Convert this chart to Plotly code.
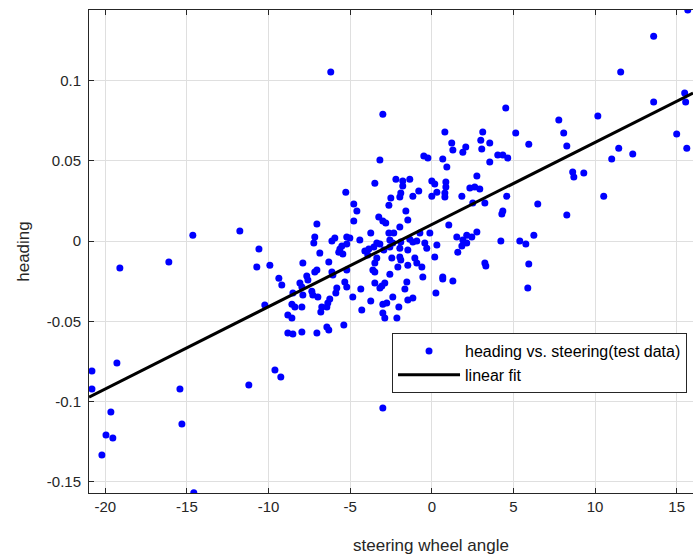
import plotly.graph_objects as go

# steering wheel angle (deg) and measured heading for the test data
steering = [
    -19.11, -16.11, -14.64, -11.76, -10.72, -10.59, -20.82, -19.29, -20.82, -15.43,
    -11.21, -19.66, -15.31, -19.96, -19.54, -20.21, -14.58, -6.19, -5.27, -7.04,
    -7.17, -7.23, -9.92, -9.37, -7.90, -6.86, -6.31, -6.12, -5.94, -5.63,
    -5.70, -5.51, -5.21, -5.21, -7.17, -7.04, -7.66, -7.59, -6.12, -6.06,
    -5.21, -8.08, -9.19, -10.23, -7.96, -8.51, -7.90, -7.35, -7.29, -6.98,
    -8.57, -8.39, -7.96, -6.74, -6.80, -6.37, -6.25, -6.43, -5.82, -5.88,
    -5.33, -5.21, -8.82, -8.57, -8.82, -8.51, -7.96, -7.04, -6.43, -6.31,
    -5.39, -9.61, -9.25, -3.00, -3.18, -0.49, -0.24, -3.49, -2.20, -1.78,
    -1.78, -1.35, 0.00, 0.18, -0.80, -1.16, -1.90, -1.96, -2.51, 0.00,
    0.31, -2.63, -4.78, -4.59, -4.78, -1.59, -1.47, -3.25, -3.00, -2.82,
    -1.96, -3.74, -2.63, -2.33, -0.73, -0.12, -5.02, -4.41, -3.37, -3.18,
    -3.55, -2.57, -2.39, -1.90, -1.35, -1.16, -0.92, -0.43, -0.31, 0.31,
    -4.10, -3.86, -2.94, -2.57, -1.96, -1.47, -3.92, -5.45, -3.37, -2.45,
    -1.96, -1.90, -1.04, -3.49, -3.61, -3.49, -2.08, -1.47, -0.92, -0.61,
    0.18, -2.57, -4.35, -3.49, -3.18, -3.06, -2.88, -1.53, -0.55, -1.65,
    -4.84, -3.74, -2.39, -3.00, -2.76, -2.02, -1.47, -1.16, 0.25, -4.29,
    -3.00, -2.88, -2.14, -3.00, 4.53, 0.80, 3.12, 5.14, 1.22, 1.29,
    3.00, 3.55, 3.06, 2.08, 1.90, 5.94, 4.04, 4.35, 4.65, 0.67,
    0.92, 3.55, 0.86, 0.86, 2.76, 2.63, 2.33, 2.94, 0.80, 0.80,
    1.84, 4.59, 2.51, 3.25, 4.29, 4.35, 1.04, 1.53, 1.90, 2.14,
    2.45, 2.76, 2.14, 1.84, 1.59, 4.23, 5.39, 5.76, 3.25, 3.31,
    5.94, 0.67, 0.67, 1.29, 5.88, 15.68, 13.59, 11.57, 15.49, 15.55,
    13.59, 10.17, 7.78, 8.08, 8.27, 15.00, 15.62, 11.45, 12.31, 11.02,
    8.63, 8.70, 9.31, 10.53, 6.49, 8.27, 6.25,
]

heading = [
    -0.0168, -0.0131, 0.0037, 0.0062, -0.0162, -0.0050, -0.0810, -0.0760, -0.0922, -0.0922,
    -0.0897, -0.1065, -0.1140, -0.1209, -0.1227, -0.1333, -0.1568, 0.1053, 0.0305, 0.0106,
    0.0025, -0.0012, -0.0150, -0.0231, -0.0137, -0.0075, -0.0131, 0.0000, 0.0019, -0.0050,
    -0.0069, -0.0031, 0.0025, -0.0019, -0.0193, -0.0181, -0.0218, -0.0243, -0.0193, -0.0212,
    -0.0181, -0.0262, -0.0274, -0.0399, -0.0287, -0.0324, -0.0336, -0.0312, -0.0336, -0.0349,
    -0.0393, -0.0411, -0.0411, -0.0411, -0.0442, -0.0386, -0.0361, -0.0411, -0.0293, -0.0324,
    -0.0255, -0.0287, -0.0461, -0.0480, -0.0573, -0.0579, -0.0567, -0.0573, -0.0536, -0.0554,
    -0.0523, -0.0804, -0.0847, 0.0791, 0.0505, 0.0530, 0.0517, 0.0361, 0.0386, 0.0374,
    0.0343, 0.0386, 0.0374, 0.0355, 0.0312, 0.0280, 0.0299, 0.0274, 0.0268, 0.0280,
    0.0305, 0.0224, 0.0231, 0.0187, 0.0125, 0.0187, 0.0131, 0.0150, 0.0125, 0.0112,
    0.0087, 0.0050, 0.0050, 0.0050, 0.0050, 0.0050, 0.0019, 0.0006, -0.0012, -0.0019,
    -0.0037, 0.0006, -0.0012, -0.0006, 0.0012, -0.0006, 0.0000, -0.0012, -0.0044, -0.0025,
    -0.0062, -0.0050, -0.0056, -0.0037, -0.0044, -0.0056, -0.0087, -0.0081, -0.0106, -0.0106,
    -0.0100, -0.0118, -0.0106, -0.0137, -0.0181, -0.0193, -0.0162, -0.0150, -0.0137, -0.0162,
    -0.0100, -0.0206, -0.0299, -0.0262, -0.0293, -0.0280, -0.0262, -0.0255, -0.0224, -0.0299,
    -0.0349, -0.0374, -0.0349, -0.0393, -0.0386, -0.0411, -0.0368, -0.0355, -0.0324, -0.0430,
    -0.0449, -0.0480, -0.0480, -0.1040, 0.0829, 0.0679, 0.0679, 0.0673, 0.0611, 0.0567,
    0.0629, 0.0611, 0.0573, 0.0586, 0.0554, 0.0604, 0.0536, 0.0536, 0.0517, 0.0511,
    0.0461, 0.0492, 0.0368, 0.0337, 0.0405, 0.0337, 0.0330, 0.0324, 0.0299, 0.0274,
    0.0280, 0.0280, 0.0237, 0.0237, 0.0168, 0.0187, 0.0100, 0.0025, 0.0006, 0.0037,
    0.0025, 0.0056, -0.0012, -0.0031, -0.0069, 0.0000, 0.0000, -0.0019, -0.0137, -0.0156,
    -0.0143, -0.0224, -0.0237, -0.0249, -0.0293, 0.1440, 0.1277, 0.1053, 0.0922, 0.0866,
    0.0866, 0.0779, 0.0754, 0.0673, 0.0592, 0.0667, 0.0579, 0.0579, 0.0542, 0.0511,
    0.0430, 0.0399, 0.0424, 0.0280, 0.0231, 0.0162, 0.0037,
]

# linear fit coefficients: heading = slope * angle + intercept
fit_slope = 0.00512
fit_intercept = 0.0103

x_range = [-21.0, 16.0]
y_range = [-0.157, 0.144]

x_ticks = [-20, -15, -10, -5, 0, 5, 10, 15]
x_tick_text = ["-20", "-15", "-10", "-5", "0", "5", "10", "15"]
y_ticks = [-0.15, -0.1, -0.05, 0, 0.05, 0.1]
y_tick_text = ["-0.15", "-0.1", "-0.05", "0", "0.05", "0.1"]

fit_x = x_range
fit_y = [fit_slope * v + fit_intercept for v in fit_x]

AXIS_COLOR = "#262626"
GRID_COLOR = "#dfdfdf"
FONT = "Liberation Sans, Arial, sans-serif"

fig = go.Figure()
fig.add_trace(go.Scatter(
    x=steering, y=heading, mode="markers",
    name="heading vs. steering(test data)",
    marker=dict(color="#0000ff", size=7, line=dict(width=0)),
))
fig.add_trace(go.Scatter(
    x=fit_x, y=fit_y, mode="lines", name="linear fit",
    line=dict(color="#000000", width=3),
))

axis_common = dict(
    showline=True, linecolor=AXIS_COLOR, linewidth=1,
    ticks="inside", ticklen=5, tickcolor=AXIS_COLOR,
    showgrid=True, gridcolor=GRID_COLOR, gridwidth=1, zeroline=False,
    tickfont=dict(family=FONT, size=15, color=AXIS_COLOR),
)

# the axes box continues past the right edge of the figure, so the
# x axis is mirrored on top while the y axis has no right-hand line
fig.update_xaxes(
    range=x_range, tickvals=x_ticks, ticktext=x_tick_text,
    mirror="allticks", **axis_common,
)
fig.update_yaxes(
    range=y_range, tickvals=y_ticks, ticktext=y_tick_text, mirror=False,
    ticklabelstandoff=4,
    title=dict(text="heading", font=dict(family=FONT, size=17, color=AXIS_COLOR), standoff=12),
    **axis_common,
)

fig.add_annotation(
    text="steering wheel angle", xref="paper", yref="paper",
    x=0.566, y=-0.108, xanchor="center", yanchor="middle", showarrow=False,
    font=dict(family=FONT, size=17, color=AXIS_COLOR),
)

fig.update_layout(
    width=694, height=559,
    margin=dict(l=89, r=1, t=10, b=66),
    paper_bgcolor="white", plot_bgcolor="white",
    font=dict(family=FONT, color=AXIS_COLOR),
    legend=dict(
        x=0.5017, y=0.331, xanchor="left", yanchor="top",
        bgcolor="white", bordercolor=AXIS_COLOR, borderwidth=1,
        font=dict(family=FONT, size=16, color="#000000"),
        itemwidth=62, tracegroupgap=0,
    ),
    showlegend=True,
)

fig.write_html("out.html")
